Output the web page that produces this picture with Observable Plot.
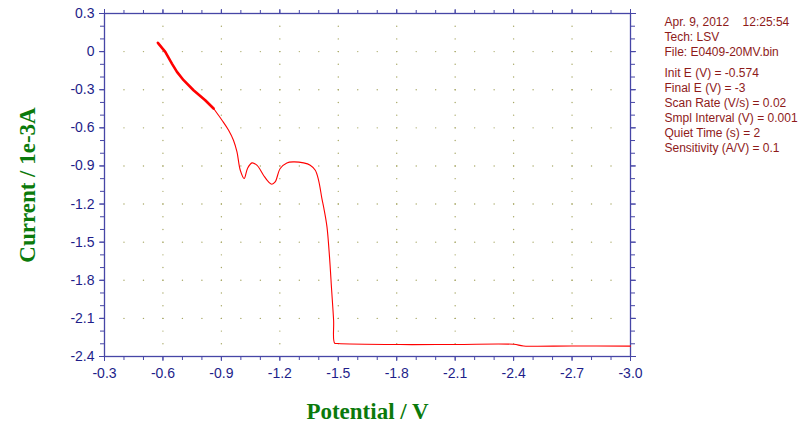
<!DOCTYPE html>
<html>
<head>
<meta charset="utf-8">
<script src="https://cdn.jsdelivr.net/npm/d3@7"></script>
<script src="https://cdn.jsdelivr.net/npm/@observablehq/plot@0.6"></script>
<style>
  body { margin: 0; background: #fff; }
  #chart svg { display: block; }
</style>
</head>
<body>
<div id="chart"></div>
<script>
// Potential (V) and Current (1e-3 A)
const potentialNoisy = [-0.574, -0.612, -0.646, -0.672, -0.706, -0.757, -0.817, -0.860];
const currentNoisy   = [0.069, -0.002, -0.094, -0.160, -0.225, -0.304, -0.383, -0.448];

const potential = [-0.860, -0.903, -0.937, -0.962, -0.980, -0.997, -1.017, -1.034, -1.057, -1.082,
  -1.116, -1.142, -1.159, -1.176, -1.202, -1.236, -1.270, -1.322, -1.356, -1.382,
  -1.399, -1.416, -1.428, -1.442, -1.455, -1.466, -1.476, -1.481, -1.498, -1.818, -2.100, -2.400, -2.451, -2.700, -3.000];
const current = [-0.448, -0.540, -0.619, -0.698, -0.790, -0.934, -0.999, -0.920, -0.876, -0.894,
  -0.973, -1.026, -1.044, -1.026, -0.920, -0.876, -0.868, -0.876, -0.894, -0.934,
  -1.013, -1.157, -1.249, -1.380, -1.616, -1.879, -2.115, -2.294, -2.298, -2.306, -2.305, -2.304, -2.317, -2.317, -2.318];

const xTicks = [-0.3, -0.6, -0.9, -1.2, -1.5, -1.8, -2.1, -2.4, -2.7, -3.0];
const xTickLabels = ["-0.3", "-0.6", "-0.9", "-1.2", "-1.5", "-1.8", "-2.1", "-2.4", "-2.7", "-3.0"];
const yTicks = [0.3, 0, -0.3, -0.6, -0.9, -1.2, -1.5, -1.8, -2.1, -2.4];
const yTickLabels = ["0.3", "0", "-0.3", "-0.6", "-0.9", "-1.2", "-1.5", "-1.8", "-2.1", "-2.4"];

const infoBlock1 = ["Apr. 9, 2012\u00a0\u00a0\u00a0\u00a012:25:54", "Tech: LSV", "File: E0409-20MV.bin"];
const infoBlock2 = ["Init E (V) = -0.574", "Final E (V) = -3", "Scan Rate (V/s) = 0.02",
  "Smpl Interval (V) = 0.001", "Quiet Time (s) = 2", "Sensitivity (A/V) = 0.1"];

const xLabel = "Potential / V";
const yLabel = "Current / 1e-3A";

// minor ticks every 0.1
const xMinor = d3.range(-30, -2).map(i => i / 10);
const yMinor = d3.range(-24, 4).map(i => i / 10);

// dotted grid: dots along major verticals at every 0.1 y, and along major horizontals at every 0.1 x
const inX = v => v < -0.301 && v > -2.999;
const inY = v => v > -2.399 && v < 0.299;
const gridDots = [];
for (const x of xTicks.filter(inX)) for (const y of yMinor.filter(inY)) gridDots.push({x, y});
for (const y of yTicks.filter(inY)) for (const x of xMinor.filter(inX)) gridDots.push({x, y});

const noisy = potentialNoisy.map((p, i) => ({p, c: currentNoisy[i]}));
const main = potential.map((p, i) => ({p, c: current[i]}));

const axisColor = "#4646a6";
const tickTextColor = "#1e1e8a";
const labelColor = "#0b7a0b";
const infoColor = "#8e1a1a";

const chart = Plot.plot({
  width: 800,
  height: 431,
  marginLeft: 104,
  marginRight: 170,
  marginTop: 13,
  marginBottom: 75,
  style: {fontFamily: "Liberation Sans, Arial, sans-serif", background: "#fff"},
  x: {domain: [-0.3, -3.0]},
  y: {domain: [-2.4, 0.3]},
  marks: [
    Plot.dot(gridDots, {x: "x", y: "y", r: 0.7, fill: "#a8a866", stroke: null}),
    Plot.axisX({anchor: "bottom", ticks: xTicks, tickSize: 5, tickPadding: 7, stroke: axisColor,
      fill: tickTextColor, fontSize: 14, tickFormat: d => xTickLabels[xTicks.indexOf(d)], label: null}),
    Plot.axisX({anchor: "bottom", ticks: xMinor, tickSize: 4, text: null, stroke: axisColor, label: null}),
    Plot.axisX({anchor: "top", ticks: xTicks, tickSize: 5, text: null, stroke: axisColor, label: null}),
    Plot.axisX({anchor: "top", ticks: xMinor, tickSize: 4, text: null, stroke: axisColor, label: null}),
    Plot.axisY({anchor: "left", ticks: yTicks, tickSize: 5, tickPadding: 5, stroke: axisColor,
      fill: tickTextColor, fontSize: 14, tickFormat: d => yTickLabels[yTicks.indexOf(d)], label: null}),
    Plot.axisY({anchor: "left", ticks: yMinor, tickSize: 4, text: null, stroke: axisColor, label: null}),
    Plot.axisY({anchor: "right", ticks: yTicks, tickSize: 5, text: null, stroke: axisColor, label: null}),
    Plot.axisY({anchor: "right", ticks: yMinor, tickSize: 4, text: null, stroke: axisColor, label: null}),
    Plot.frame({stroke: axisColor, strokeWidth: 1.3}),
    Plot.line(noisy, {x: "p", y: "c", stroke: "#ff0000", strokeWidth: 2.6}),
    Plot.line(main, {x: "p", y: "c", stroke: "#ff0000", strokeWidth: 1.1, curve: "catmull-rom"}),
    Plot.text([xLabel], {frameAnchor: "bottom", textAnchor: "middle", dy: 55, fontSize: 23, fontWeight: "bold",
      fontFamily: "Liberation Serif, Times New Roman, serif", fill: labelColor, lineAnchor: "middle"}),
    Plot.text([yLabel], {frameAnchor: "left", textAnchor: "middle", dx: -77, rotate: -90, fontSize: 23, fontWeight: "bold",
      fontFamily: "Liberation Serif, Times New Roman, serif", fill: labelColor, lineAnchor: "middle"}),
    Plot.text([infoBlock1.join("\n")], {frameAnchor: "top-right", dx: 34, dy: 2, textAnchor: "start",
      lineAnchor: "top", lineHeight: 1.25, fontSize: 12, fill: infoColor}),
    Plot.text([infoBlock2.join("\n")], {frameAnchor: "top-right", dx: 34, dy: 53, textAnchor: "start",
      lineAnchor: "top", lineHeight: 1.25, fontSize: 12, fill: infoColor})
  ]
});
document.getElementById("chart").appendChild(chart);
</script>
</body>
</html>
